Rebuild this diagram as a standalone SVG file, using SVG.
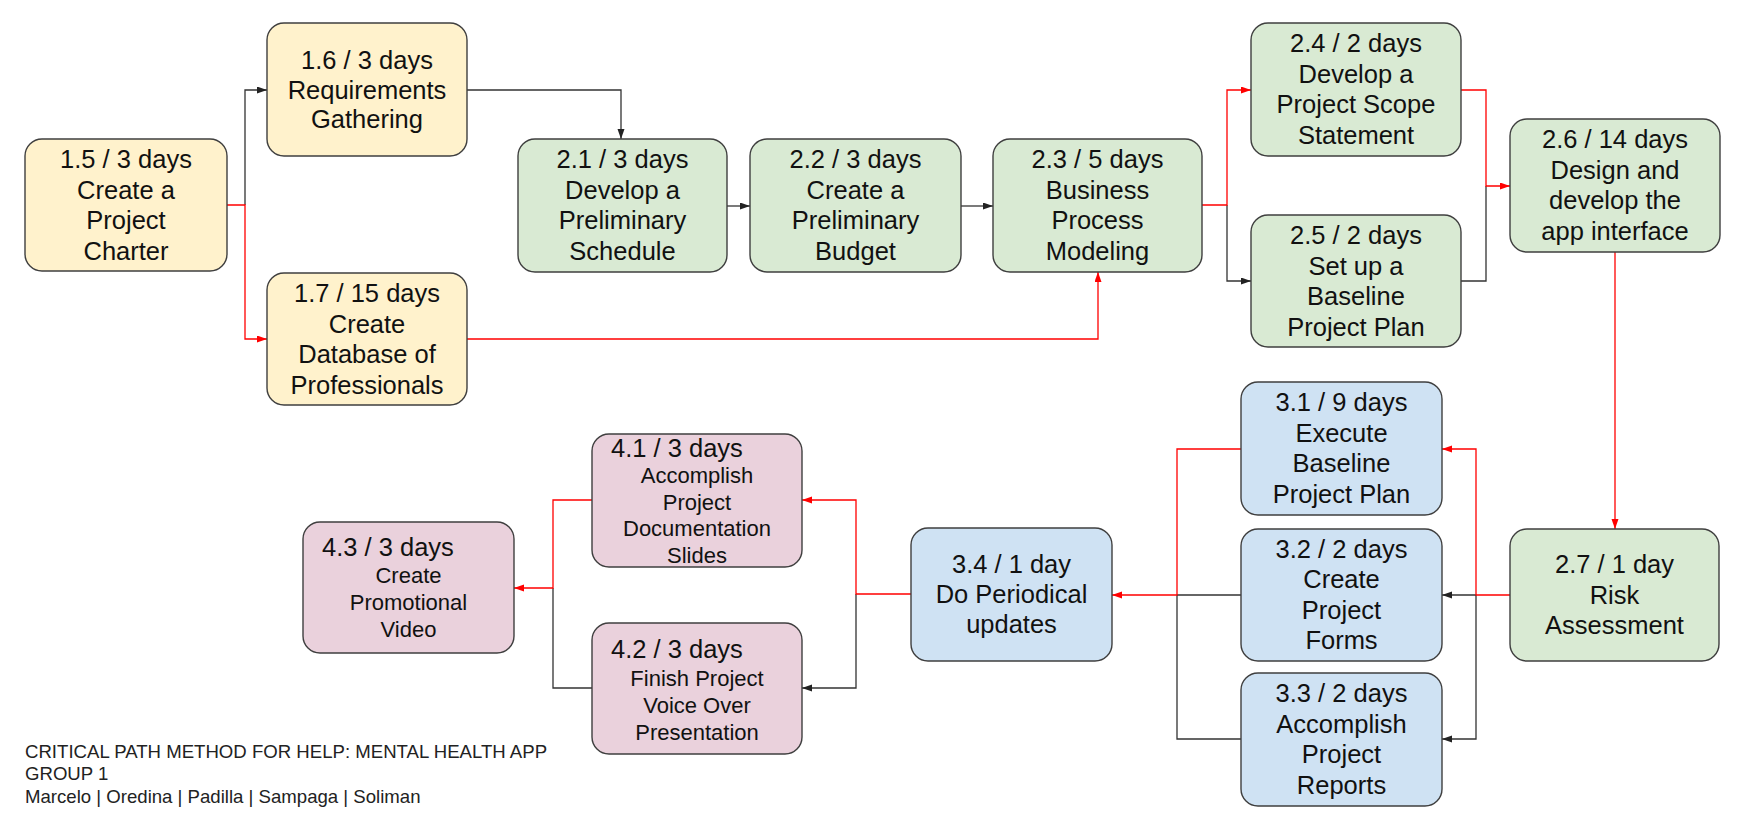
<svg xmlns="http://www.w3.org/2000/svg" width="1747" height="839" viewBox="0 0 1747 839">
<style>
.box{stroke:#3f3f3f;stroke-width:1.4}
.y{fill:#fff2cc}.g{fill:#d9ead3}.b{fill:#cfe2f3}.p{fill:#ead1dc}
text{font-family:"Liberation Sans",Arial,sans-serif;fill:#111}
.t{font-size:25.5px;text-anchor:middle}
.ts{font-size:25.5px;text-anchor:start}
.d{font-size:22px;text-anchor:middle}
.f{font-size:18.6px;fill:#222}
.k{fill:none;stroke:#333;stroke-width:1.3}
.r{fill:none;stroke:#ff0000;stroke-width:1.3}
</style>
<defs>
<marker id="ak" markerUnits="userSpaceOnUse" markerWidth="10" markerHeight="8" refX="10" refY="3.5" orient="auto"><path d="M0,0 L10,3.5 L0,7 z" fill="#222"/></marker>
<marker id="ar" markerUnits="userSpaceOnUse" markerWidth="10" markerHeight="8" refX="10" refY="3.5" orient="auto"><path d="M0,0 L10,3.5 L0,7 z" fill="#ff0000"/></marker>
</defs>
<rect width="1747" height="839" fill="#ffffff"/>
<g id="connectors">
<path class="k" d="M245,205 V90 H267" marker-end="url(#ak)"/>
<path class="k" d="M467,90 H621 V139" marker-end="url(#ak)"/>
<path class="k" d="M727,206 H750" marker-end="url(#ak)"/>
<path class="k" d="M961,206 H993" marker-end="url(#ak)"/>
<path class="k" d="M1227,205 V281 H1251" marker-end="url(#ak)"/>
<path class="k" d="M1461,281 H1486 V186"/>
<path class="k" d="M1476,595 H1442" marker-end="url(#ak)"/>
<path class="k" d="M1476,595 V739 H1442" marker-end="url(#ak)"/>
<path class="k" d="M1241,595 H1177"/>
<path class="k" d="M1241,739 H1177 V595"/>
<path class="k" d="M856,594 V688 H802" marker-end="url(#ak)"/>
<path class="k" d="M592,688 H553 V588"/>
<path class="r" d="M227,205 H245 V339 H267" marker-end="url(#ar)"/>
<path class="r" d="M467,339 H1098 V272" marker-end="url(#ar)"/>
<path class="r" d="M1202,205 H1227 V90 H1251" marker-end="url(#ar)"/>
<path class="r" d="M1461,90 H1486 V186 H1510" marker-end="url(#ar)"/>
<path class="r" d="M1615,252 V529" marker-end="url(#ar)"/>
<path class="r" d="M1510,595 H1476 V449 H1442" marker-end="url(#ar)"/>
<path class="r" d="M1241,449 H1177 V595 H1112" marker-end="url(#ar)"/>
<path class="r" d="M911,594 H856 V500 H802" marker-end="url(#ar)"/>
<path class="r" d="M592,500 H553 V588 H514" marker-end="url(#ar)"/>
</g>
<g id="n15"><rect class="box y" x="25" y="139" width="202" height="132" rx="17"/>
<text class="t" x="126" y="168">1.5 / 3 days</text><text class="t" x="126" y="198.5">Create a</text><text class="t" x="126" y="229">Project</text><text class="t" x="126" y="259.5">Charter</text></g>
<g id="n16"><rect class="box y" x="267" y="23" width="200" height="133" rx="17"/>
<text class="t" x="367" y="69">1.6 / 3 days</text><text class="t" x="367" y="98.5">Requirements</text><text class="t" x="367" y="128">Gathering</text></g>
<g id="n17"><rect class="box y" x="267" y="273" width="200" height="132" rx="17"/>
<text class="t" x="367" y="302">1.7 / 15 days</text><text class="t" x="367" y="332.5">Create</text><text class="t" x="367" y="363">Database of</text><text class="t" x="367" y="393.5">Professionals</text></g>
<g id="n21"><rect class="box g" x="518" y="139" width="209" height="133" rx="17"/>
<text class="t" x="622.5" y="168">2.1 / 3 days</text><text class="t" x="622.5" y="198.5">Develop a</text><text class="t" x="622.5" y="229">Preliminary</text><text class="t" x="622.5" y="259.5">Schedule</text></g>
<g id="n22"><rect class="box g" x="750" y="139" width="211" height="133" rx="17"/>
<text class="t" x="855.5" y="168">2.2 / 3 days</text><text class="t" x="855.5" y="198.5">Create a</text><text class="t" x="855.5" y="229">Preliminary</text><text class="t" x="855.5" y="259.5">Budget</text></g>
<g id="n23"><rect class="box g" x="993" y="139" width="209" height="133" rx="17"/>
<text class="t" x="1097.5" y="168">2.3 / 5 days</text><text class="t" x="1097.5" y="198.5">Business</text><text class="t" x="1097.5" y="229">Process</text><text class="t" x="1097.5" y="259.5">Modeling</text></g>
<g id="n24"><rect class="box g" x="1251" y="23" width="210" height="133" rx="17"/>
<text class="t" x="1356" y="52">2.4 / 2 days</text><text class="t" x="1356" y="82.5">Develop a</text><text class="t" x="1356" y="113">Project Scope</text><text class="t" x="1356" y="143.5">Statement</text></g>
<g id="n25"><rect class="box g" x="1251" y="215" width="210" height="132" rx="17"/>
<text class="t" x="1356" y="244">2.5 / 2 days</text><text class="t" x="1356" y="274.5">Set up a</text><text class="t" x="1356" y="305">Baseline</text><text class="t" x="1356" y="335.5">Project Plan</text></g>
<g id="n26"><rect class="box g" x="1510" y="119" width="210" height="133" rx="17"/>
<text class="t" x="1615" y="148">2.6 / 14 days</text><text class="t" x="1615" y="178.5">Design and</text><text class="t" x="1615" y="209">develop the</text><text class="t" x="1615" y="239.5">app interface</text></g>
<g id="n27"><rect class="box g" x="1510" y="529" width="209" height="132" rx="17"/>
<text class="t" x="1614.5" y="573">2.7 / 1 day</text><text class="t" x="1614.5" y="603.5">Risk</text><text class="t" x="1614.5" y="634">Assessment</text></g>
<g id="n31"><rect class="box b" x="1241" y="382" width="201" height="133" rx="17"/>
<text class="t" x="1341.5" y="411">3.1 / 9 days</text><text class="t" x="1341.5" y="441.5">Execute</text><text class="t" x="1341.5" y="472">Baseline</text><text class="t" x="1341.5" y="502.5">Project Plan</text></g>
<g id="n32"><rect class="box b" x="1241" y="529" width="201" height="132" rx="17"/>
<text class="t" x="1341.5" y="557.5">3.2 / 2 days</text><text class="t" x="1341.5" y="588">Create</text><text class="t" x="1341.5" y="618.5">Project</text><text class="t" x="1341.5" y="649">Forms</text></g>
<g id="n33"><rect class="box b" x="1241" y="673" width="201" height="133" rx="17"/>
<text class="t" x="1341.5" y="702">3.3 / 2 days</text><text class="t" x="1341.5" y="732.5">Accomplish</text><text class="t" x="1341.5" y="763">Project</text><text class="t" x="1341.5" y="793.5">Reports</text></g>
<g id="n34"><rect class="box b" x="911" y="528" width="201" height="133" rx="17"/>
<text class="t" x="1011.5" y="573">3.4 / 1 day</text><text class="t" x="1011.5" y="603">Do Periodical</text><text class="t" x="1011.5" y="633">updates</text></g>
<g id="n41"><rect class="box p" x="592" y="434" width="210" height="133" rx="17"/>
<text class="ts" x="611" y="457">4.1 / 3 days</text><text class="d" x="697" y="483">Accomplish</text><text class="d" x="697" y="509.5">Project</text><text class="d" x="697" y="536">Documentation</text><text class="d" x="697" y="562.5">Slides</text></g>
<g id="n42"><rect class="box p" x="592" y="623" width="210" height="131" rx="17"/>
<text class="ts" x="611" y="658">4.2 / 3 days</text><text class="d" x="697" y="686">Finish Project</text><text class="d" x="697" y="713">Voice Over</text><text class="d" x="697" y="740">Presentation</text></g>
<g id="n43"><rect class="box p" x="303" y="522" width="211" height="131" rx="17"/>
<text class="ts" x="322" y="556">4.3 / 3 days</text><text class="d" x="408.5" y="583">Create</text><text class="d" x="408.5" y="610">Promotional</text><text class="d" x="408.5" y="637">Video</text></g>
<g id="footer">
<text class="f" x="25" y="758">CRITICAL PATH METHOD FOR HELP: MENTAL HEALTH APP</text>
<text class="f" x="25" y="780">GROUP 1</text>
<text class="f" x="25" y="803">Marcelo | Oredina | Padilla | Sampaga | Soliman</text>
</g>
</svg>
